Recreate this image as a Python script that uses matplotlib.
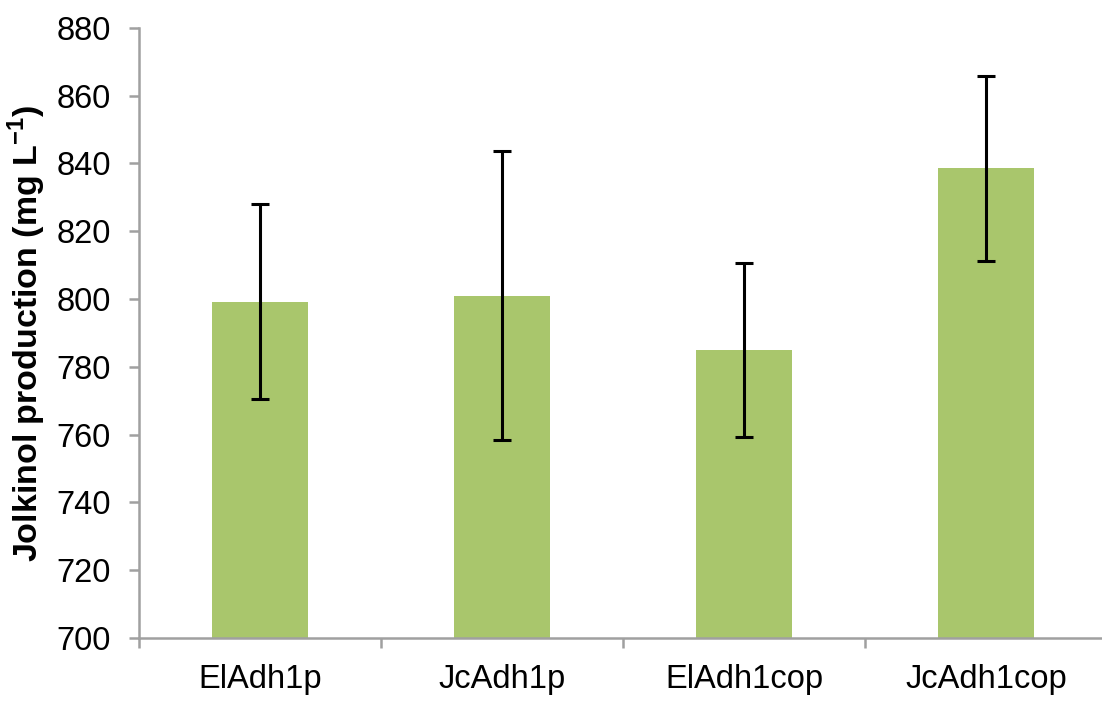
import matplotlib
matplotlib.use("Agg")
import matplotlib.pyplot as plt
import numpy as np

categories = ["ElAdh1p", "JcAdh1p", "ElAdh1cop", "JcAdh1cop"]
values = [799.2, 801.0, 785.0, 838.5]
errors = [28.7, 42.5, 25.7, 27.2]
yticks = [700, 720, 740, 760, 780, 800, 820, 840, 860, 880]

plt.rcParams['font.family'] = ['Liberation Sans', 'DejaVu Sans']
plt.rcParams['mathtext.fontset'] = 'custom'
plt.rcParams['mathtext.rm'] = 'Liberation Sans'
plt.rcParams['mathtext.bf'] = 'Liberation Sans:bold'

fig = plt.figure(figsize=(11.02, 7.02), dpi=100)
ax = fig.add_axes([0.1261, 0.0912, 0.8784, 0.8693])

x = np.arange(len(categories))
ax.bar(x, values, width=0.4, color='#A9C66C', zorder=2)
ax.errorbar(x, values, yerr=errors, fmt='none', ecolor='black',
            elinewidth=2.2, capsize=6.8, capthick=2.2, zorder=3)

ax.set_ylim(700, 880)
ax.set_xlim(-0.5, 3.5)
ax.set_yticks(yticks)
ax.set_yticklabels([str(t) for t in yticks], fontsize=23.5)

ax.set_xticks(np.arange(-0.5, 4.0, 1.0))
ax.set_xticklabels([''] * 5)
ax.set_xticks(x, minor=True)
ax.set_xticklabels(categories, minor=True, fontsize=23.5)

spine_c = '#A0A0A0'
for s in ['top', 'right']:
    ax.spines[s].set_visible(False)
for s in ['left', 'bottom']:
    ax.spines[s].set_color(spine_c)
    ax.spines[s].set_linewidth(1.8)

ax.tick_params(axis='y', which='major', direction='out', length=7.2, width=1.8,
               color=spine_c, pad=13)
ax.tick_params(axis='x', which='major', direction='out', length=7.2, width=1.8,
               color=spine_c)
ax.tick_params(axis='x', which='minor', length=0, pad=19)

ax.set_ylabel(r'Jolkinol production (mg L$^{\mathbf{-1}}$)', fontsize=24.5,
              fontweight='bold')
ax.yaxis.set_label_coords(-0.094, 0.5)

fig.savefig('out.png', dpi=100)
